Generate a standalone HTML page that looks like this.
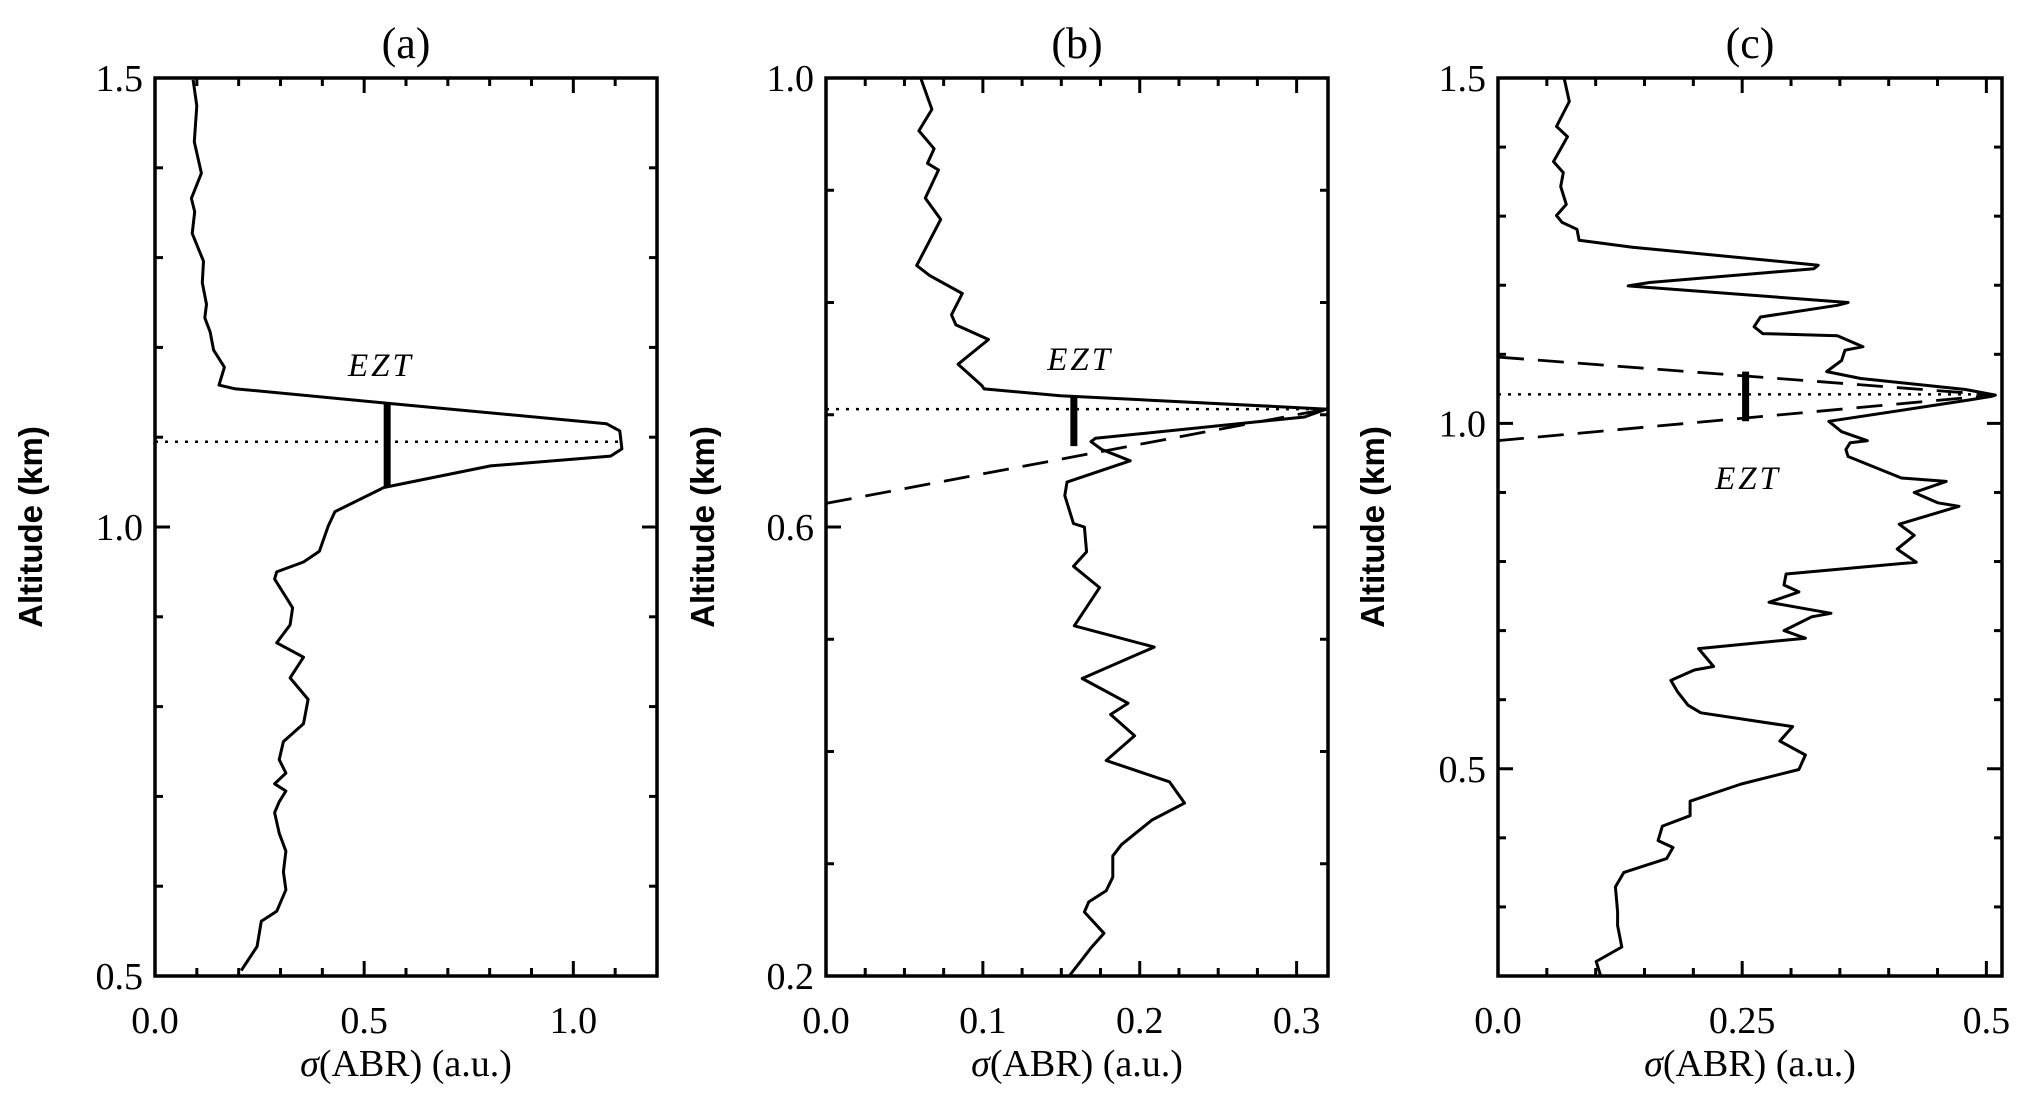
<!DOCTYPE html>
<html><head><meta charset="utf-8"><style>
html,body{margin:0;padding:0;background:#fff;}
svg{display:block;}
text{fill:#000;}
</style></head><body>
<svg id="fig" width="2028" height="1109" viewBox="0 0 2028 1109" xmlns="http://www.w3.org/2000/svg"></svg>
<script>
// Panel (a) data
const aX = [0.091,0.100,0.094,0.111,0.087,0.095,0.089,0.116,0.113,0.123,0.119,0.132,0.140,0.166,0.153,0.190,0.552,1.079,1.111,1.116,1.089,0.802,0.547,0.430,0.414,0.393,0.355,0.291,0.286,0.313,0.329,0.323,0.291,0.355,0.323,0.366,0.355,0.307,0.297,0.313,0.286,0.313,0.297,0.286,0.297,0.313,0.307,0.313,0.291,0.254,0.244,0.206];
const aY = [1.498,1.469,1.429,1.394,1.366,1.351,1.327,1.296,1.272,1.248,1.233,1.217,1.197,1.178,1.158,1.154,1.138,1.115,1.107,1.087,1.079,1.068,1.044,1.017,1.001,0.973,0.961,0.950,0.942,0.922,0.910,0.891,0.871,0.855,0.832,0.808,0.781,0.761,0.741,0.726,0.714,0.706,0.694,0.682,0.659,0.639,0.616,0.596,0.572,0.561,0.533,0.506];
const aXTicks = [0.0,0.5,1.0];
const aXTickLabels = ["0.0","0.5","1.0"];
const aYTicks = [0.5,1.0,1.5];
const aYTickLabels = ["0.5","1.0","1.5"];
const aRef = [1.095];
const aEzt = [0.555,1.138,1.044];

// Panel (b) data
const bX = [0.0606,0.0675,0.0592,0.0689,0.0647,0.0717,0.0633,0.0731,0.0578,0.0661,0.0869,0.080,0.0828,0.1036,0.0842,0.0994,0.1008,0.1494,0.3189,0.305,0.1717,0.1689,0.1758,0.1939,0.1536,0.1522,0.1578,0.1647,0.1661,0.1578,0.1744,0.1583,0.2092,0.1633,0.1925,0.1814,0.1967,0.1786,0.2189,0.2286,0.2078,0.1883,0.1828,0.1828,0.1786,0.1675,0.1647,0.1772,0.1689,0.155];
const bY = [0.999,0.972,0.953,0.937,0.924,0.918,0.893,0.874,0.833,0.824,0.808,0.789,0.780,0.767,0.745,0.726,0.723,0.717,0.705,0.698,0.679,0.676,0.669,0.659,0.640,0.628,0.603,0.600,0.578,0.565,0.546,0.512,0.493,0.465,0.443,0.433,0.414,0.392,0.373,0.354,0.339,0.317,0.307,0.288,0.276,0.266,0.257,0.238,0.225,0.200];
const bXTicks = [0.0,0.1,0.2,0.3];
const bXTickLabels = ["0.0","0.1","0.2","0.3"];
const bYTicks = [0.2,0.6,1.0];
const bYTickLabels = ["0.2","0.6","1.0"];
const bRef = [0.705];
const bEzt = [0.158,0.717,0.672];
const bDashX = [0.0,0.3189];
const bDashY = [0.621,0.705];

// Panel (c) data
const cX = [0.0677,0.0730,0.0599,0.0712,0.0568,0.0669,0.0642,0.0699,0.0599,0.0656,0.0809,0.0830,0.1377,0.3278,0.3234,0.1552,0.1333,0.3584,0.3475,0.2688,0.2622,0.2710,0.3475,0.3737,0.3553,0.3518,0.3365,0.3715,0.4786,0.5092,0.5048,0.4830,0.3387,0.3518,0.3781,0.3606,0.3562,0.3584,0.4130,0.4589,0.4261,0.4502,0.4720,0.4108,0.4261,0.4087,0.4283,0.2950,0.2928,0.3081,0.2775,0.3409,0.3212,0.2928,0.3147,0.2054,0.2207,0.2010,0.1770,0.1836,0.1945,0.2076,0.3016,0.2885,0.3147,0.3081,0.2491,0.1967,0.1967,0.1683,0.1639,0.1792,0.1726,0.1289,0.1202,0.1224,0.1224,0.1267,0.1005,0.1049];
const cY = [1.500,1.466,1.430,1.415,1.379,1.363,1.343,1.317,1.301,1.291,1.281,1.265,1.255,1.229,1.224,1.204,1.199,1.175,1.171,1.154,1.140,1.130,1.127,1.111,1.106,1.091,1.075,1.065,1.049,1.041,1.039,1.034,1.003,0.988,0.975,0.972,0.962,0.952,0.921,0.916,0.900,0.885,0.880,0.854,0.838,0.818,0.799,0.782,0.766,0.756,0.741,0.725,0.720,0.700,0.689,0.674,0.648,0.643,0.628,0.612,0.592,0.581,0.561,0.540,0.520,0.499,0.478,0.453,0.432,0.417,0.396,0.386,0.370,0.350,0.329,0.293,0.273,0.242,0.221,0.201];
const cXTicks = [0.0,0.25,0.5];
const cXTickLabels = ["0.0","0.25","0.5"];
const cYTicks = [0.5,1.0,1.5];
const cYTickLabels = ["0.5","1.0","1.5"];
const cRef = [1.042];
const cEzt = [0.2535,1.075,1.003];
const cDash1X = [0.0,0.509];
const cDash1Y = [1.096,1.041];
const cDash2X = [0.0,0.509];
const cDash2Y = [0.975,1.041];

const NS = "http://www.w3.org/2000/svg";
const svg = document.getElementById('fig');
function mk(tag, attrs, parent){
  const e = document.createElementNS(NS, tag);
  for (const k in attrs) e.setAttribute(k, attrs[k]);
  (parent||svg).appendChild(e);
  return e;
}
const TOP = 78, BOT = 976;

function panel(cfg){
  const g = mk('g', {});
  
  
  const sx = v => cfg.L + (v - cfg.x0) / (cfg.x1 - cfg.x0) * (cfg.R - cfg.L);
  const sy = v => BOT - (v - cfg.y0) / (cfg.y1 - cfg.y0) * (BOT - TOP);
  const tk = mk('g', {stroke:'#000','stroke-width':3}, g);
  
  
  for (let v = cfg.x0; v <= cfg.x1 + 1e-9; v += cfg.xMinor) {
    const isMaj = cfg.xTicks.some(t => Math.abs(t - v) < 1e-6);
    const len = isMaj ? 15 : 8, x = sx(v);
    mk('line', {x1:x, y1:BOT, x2:x, y2:BOT-len}, tk);
    mk('line', {x1:x, y1:TOP, x2:x, y2:TOP+len}, tk);
  }
  for (let v = Math.ceil(cfg.y0 / cfg.yMinor - 1e-6) * cfg.yMinor; v <= cfg.y1 + 1e-9; v += cfg.yMinor) {
    const isMaj = cfg.yTicks.some(t => Math.abs(t - v) < 1e-6);
    const len = isMaj ? 15 : 8, y = sy(v);
    mk('line', {x1:cfg.L, y1:y, x2:cfg.L+len, y2:y}, tk);
    mk('line', {x1:cfg.R, y1:y, x2:cfg.R-len, y2:y}, tk);
  }
  const fr = mk('rect', {x:cfg.L, y:TOP, width:cfg.R-cfg.L, height:BOT-TOP, fill:'none', stroke:'#000', 'stroke-width':3.5}, g);
  
  
  cfg.xTicks.forEach((v, i) => {
    const t = mk('text', {x:sx(v), y:1033, 'text-anchor':'middle', 'font-family':'Liberation Serif, serif', 'font-size':38}, g);
    
    
    t.textContent = cfg.xLabels[i];
  });
  cfg.yTicks.forEach((v, i) => {
    const t = mk('text', {x:cfg.L-12, y:sy(v)+13, 'text-anchor':'end', 'font-family':'Liberation Serif, serif', 'font-size':38}, g);
    
    
    t.textContent = cfg.yLabels[i];
  });
  const xt = mk('text', {x:(cfg.L+cfg.R)/2, y:1076, 'text-anchor':'middle', 'font-family':'Liberation Serif, serif', 'font-size':38}, g);
  
  
  xt.innerHTML = '<tspan font-style="italic">σ</tspan>(ABR) (a.u.)';
  const yt = mk('text', {x:0, y:0, 'text-anchor':'middle', 'font-family':'Liberation Sans, sans-serif', 'font-weight':'bold', 'font-size':33, transform:`translate(${cfg.ytx},${(TOP+BOT)/2}) rotate(-90)`}, g);
  
  
  yt.textContent = 'Altitude (km)';
  const tt = mk('text', {x:(cfg.L+cfg.R)/2, y:58, 'text-anchor':'middle', 'font-family':'Liberation Serif, serif', 'font-size':44}, g);
  
  
  tt.textContent = cfg.title;
  const dl = mk('line', {x1:sx(cfg.x0), y1:sy(cfg.ref[0]), x2:sx(cfg.refEnd), y2:sy(cfg.ref[0]), stroke:'#000', 'stroke-width':2.5, 'stroke-dasharray':'3 7'}, g);
  
  
  (cfg.dashes||[]).forEach(d => {
    const l = mk('line', {x1:sx(d[0][0]), y1:sy(d[1][0]), x2:sx(d[0][1]), y2:sy(d[1][1]), stroke:'#000', 'stroke-width':2.8, 'stroke-dasharray':'26 14'}, g);
    
    
  });
  const pts = cfg.xs.map((v, i) => sx(v).toFixed(1) + ',' + sy(cfg.ys[i]).toFixed(1)).join(' ');
  const pl = mk('polyline', {points:pts, fill:'none', stroke:'#000', 'stroke-width':3, 'stroke-linejoin':'round'}, g);
  
  
  const eb = mk('line', {x1:sx(cfg.ezt[0]), y1:sy(cfg.ezt[1]), x2:sx(cfg.ezt[0]), y2:sy(cfg.ezt[2]), stroke:'#000', 'stroke-width':7}, g);
  
  
  const el = mk('text', {x:sx(cfg.eztLabel[0]), y:sy(cfg.eztLabel[1]), 'text-anchor':'middle', 'font-family':'Liberation Serif, serif', 'font-style':'italic', 'font-size':33, 'letter-spacing':3}, g);
  
  
  el.textContent = 'EZT';
}

panel({name:'panel-a', title:'(a)', L:155, R:657, x0:0, x1:1.2, y0:0.5, y1:1.5, xMinor:0.1, yMinor:0.1,
  xTicks:aXTicks, xLabels:aXTickLabels, yTicks:aYTicks, yLabels:aYTickLabels, ytx:42,
  xs:aX, ys:aY, ref:aRef, refEnd:1.12, ezt:aEzt, eztLabel:[0.54,1.168]});
panel({name:'panel-b', title:'(b)', L:826, R:1328, x0:0, x1:0.32, y0:0.2, y1:1.0, xMinor:0.025, yMinor:0.1,
  xTicks:bXTicks, xLabels:bXTickLabels, yTicks:bYTicks, yLabels:bYTickLabels, ytx:714,
  xs:bX, ys:bY, ref:bRef, refEnd:0.32, ezt:bEzt, eztLabel:[0.162,0.74],
  dashes:[[bDashX,bDashY]]});
panel({name:'panel-c', title:'(c)', L:1498, R:2002, x0:0, x1:0.516, y0:0.2, y1:1.5, xMinor:0.05, yMinor:0.1,
  xTicks:cXTicks, xLabels:cXTickLabels, yTicks:cYTicks, yLabels:cYTickLabels, ytx:1384,
  xs:cX, ys:cY, ref:cRef, refEnd:0.5, ezt:cEzt, eztLabel:[0.256,0.905],
  dashes:[[cDash1X,cDash1Y],[cDash2X,cDash2Y]]});
</script>
</body></html>
